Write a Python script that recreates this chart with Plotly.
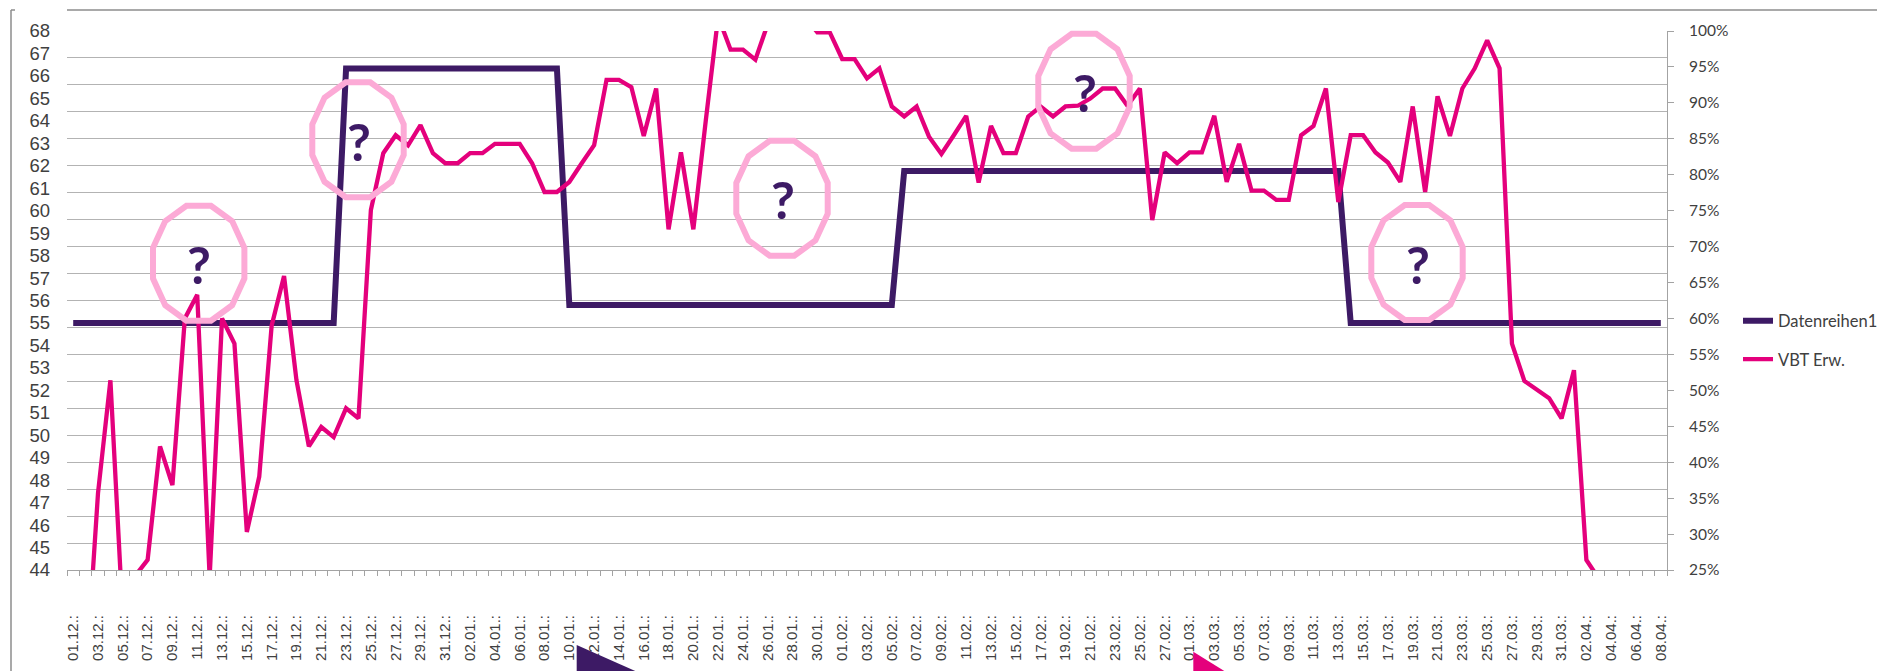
import math
import pandas as pd
import plotly.graph_objects as go

# ---------------- data ----------------
dates = pd.date_range("2012-12-01", "2013-04-08", freq="D")
categories = [d.strftime("%d.%m.") for d in dates]
tick_labels = [c + ":" if i % 2 == 0 else "" for i, c in enumerate(categories)]

datenreihen1 = [
    55, 55, 55, 55, 55, 55, 55, 55, 55, 55,
    55, 55, 55, 55, 55, 55, 55, 55, 55, 55,
    55, 55, 66.33, 66.33, 66.33, 66.33, 66.33, 66.33, 66.33, 66.33,
    66.33, 66.33, 66.33, 66.33, 66.33, 66.33, 66.33, 66.33, 66.33, 66.33,
    55.8, 55.8, 55.8, 55.8, 55.8, 55.8, 55.8, 55.8, 55.8, 55.8,
    55.8, 55.8, 55.8, 55.8, 55.8, 55.8, 55.8, 55.8, 55.8, 55.8,
    55.8, 55.8, 55.8, 55.8, 55.8, 55.8, 55.8, 61.77, 61.77, 61.77,
    61.77, 61.77, 61.77, 61.77, 61.77, 61.77, 61.77, 61.77, 61.77, 61.77,
    61.77, 61.77, 61.77, 61.77, 61.77, 61.77, 61.77, 61.77, 61.77, 61.77,
    61.77, 61.77, 61.77, 61.77, 61.77, 61.77, 61.77, 61.77, 61.77, 61.77,
    61.77, 61.77, 61.77, 55, 55, 55, 55, 55, 55, 55,
    55, 55, 55, 55, 55, 55, 55, 55, 55, 55,
    55, 55, 55, 55, 55, 55, 55, 55, 55,
]

vbt_erw = [
    None, 9.3, 35.7, 51.4, 18.4, 24.2, 26.4, 42.2, 36.8, 60.0,
    63.3, 24.0, 60.0, 56.5, 30.3, 38.0, 59.0, 65.9, 51.4, 42.2,
    44.9, 43.5, 47.5, 46.1, 75.1, 83.0, 85.5, 84.1, 86.9, 83.0,
    81.6, 81.6, 83.0, 83.0, 84.3, 84.3, 84.3, 81.6, 77.6, 77.6,
    79.0, 81.6, 84.1, 93.2, 93.2, 92.2, 85.4, 92.0, 72.4, 83.1,
    72.4, 87.5, 102.0, 97.4, 97.4, 96.0, 101.0, 104.0, 104.0, 102.0,
    99.8, 99.8, 96.1, 96.1, 93.4, 94.8, 89.5, 88.1, 89.5, 85.3,
    82.9, 85.5, 88.2, 78.9, 86.8, 83.0, 83.0, 88.1, 89.5, 88.1,
    89.5, 89.6, 90.6, 92.0, 92.0, 89.6, 92.0, 73.7, 83.1, 81.6,
    83.1, 83.1, 88.2, 79.0, 84.3, 77.8, 77.8, 76.5, 76.5, 85.5,
    86.8, 92.0, 76.2, 85.5, 85.5, 83.1, 81.7, 79.0, 89.5, 77.6,
    90.9, 85.4, 92.0, 94.8, 98.7, 94.8, 56.5, 51.3, 50.1, 48.9,
    46.1, 52.8, 26.4, 23.8, None, None, None, None, None,
]

left_ticks = list(range(44, 69))
right_ticks = list(range(25, 101, 5))

# decoration (pixel positions of the "?" callouts)
callouts = [(198.7, 263.2), (358.0, 139.7), (782.0, 198.3), (1084.0, 91.3), (1417.0, 262.5)]

PURPLE = "#3d1a65"
MAGENTA = "#e4007c"
PINK = "#fcaad6"
GRID = "#b3b3b3"
AXIS = "#a3a3a3"
TXT = "#404040"

W, H = 1877, 671
L, R, T, B = 67, 210, 31, 101
PW, PH = W - L - R, H - T - B


def px(x):
    return (x - L) / PW


def py(y):
    return (H - B - y) / PH


fig = go.Figure()
fig.add_trace(go.Scatter(
    x=categories, y=datenreihen1, name="Datenreihen1", mode="lines",
    line=dict(color=PURPLE, width=6), yaxis="y", legendgroup="a",
))
fig.add_trace(go.Scatter(
    x=categories, y=vbt_erw, name="VBT Erw.", mode="lines",
    line=dict(color=MAGENTA, width=4.3), yaxis="y2", legendgroup="b",
    connectgaps=False,
))
fig.add_trace(go.Scatter(
    x=[categories[0]], y=[None], yaxis="y3", showlegend=False, hoverinfo="skip",
))

shapes = []
# outer frame pieces
shapes.append(dict(type="line", xref="paper", yref="paper", x0=px(11), x1=px(11), y0=py(10), y1=py(680),
                   line=dict(color="#8c8c8c", width=1.5)))
shapes.append(dict(type="line", xref="paper", yref="paper", x0=px(11), x1=px(15), y0=py(10), y1=py(10),
                   line=dict(color="#8c8c8c", width=1.5)))
shapes.append(dict(type="line", xref="paper", yref="paper", x0=px(67), x1=px(1880), y0=py(10), y1=py(10),
                   line=dict(color="#8c8c8c", width=1.5)))

# pink callout polygons
hw, hh = 45.7, 57.5
for cx, cy in callouts:
    rx, ry = hw / math.cos(math.radians(15)), hh / math.cos(math.radians(15))
    pts = []
    for k in range(12):
        a = math.radians(15 + 30 * k)
        pts.append((px(cx + rx * math.cos(a)), py(cy + ry * math.sin(a))))
    path = "M " + " L ".join(f"{a:.5f},{b:.5f}" for a, b in pts) + " Z"
    shapes.append(dict(type="path", xref="paper", yref="paper", path=path,
                       line=dict(color=PINK, width=6), fillcolor="rgba(0,0,0,0)", layer="above"))

# arrow tips at bottom
tri1 = [(576.7, 645), (660, 682), (576.7, 682)]
tri2 = [(1193.3, 651.7), (1242, 682), (1193.3, 682)]
for tri, col in ((tri1, PURPLE), (tri2, MAGENTA)):
    path = "M " + " L ".join(f"{px(a):.5f},{py(b):.5f}" for a, b in tri) + " Z"
    shapes.append(dict(type="path", xref="paper", yref="paper", path=path,
                       line=dict(color=col, width=0), fillcolor=col, layer="above"))

annotations = []
for cx, cy in callouts:
    annotations.append(dict(xref="paper", yref="paper", x=px(cx + 0.5), y=py(cy + 1),
                            text="<b>?</b>", showarrow=False, xanchor="center", yanchor="middle",
                            font=dict(family="Lato", size=52, color=PURPLE)))

fig.update_layout(
    width=W, height=H,
    margin=dict(l=L, r=R, t=T, b=B, pad=0, autoexpand=False),
    paper_bgcolor="white", plot_bgcolor="white",
    shapes=shapes, annotations=annotations,
    legend=dict(x=px(1738), y=py(340), xanchor="left", yanchor="middle",
                font=dict(family="Lato", size=16.5, color=TXT),
                tracegroupgap=14, traceorder="grouped", bgcolor="rgba(0,0,0,0)"),
    xaxis=dict(
        type="category", categoryorder="array", categoryarray=categories,
        range=[-0.5, len(categories) - 0.5],
        tickmode="array", tickvals=categories, ticktext=tick_labels,
        tickangle=-90, tickson="boundaries", ticks="outside", ticklen=5,
        tickcolor=AXIS, showline=True, linecolor=AXIS, linewidth=1,
        showgrid=False, zeroline=False,
        tickfont=dict(family="Liberation Sans", size=15, color=TXT),
        ticklabelstandoff=38,
    ),
    yaxis=dict(
        range=[44, 68], tickmode="array", tickvals=left_ticks,
        ticktext=[str(v) for v in left_ticks],
        showgrid=False, zeroline=False, ticks="", showline=False,
        tickfont=dict(family="Liberation Sans", size=18.5, color=TXT),
        ticklabelstandoff=16,
    ),
    yaxis2=dict(
        overlaying="y", side="right", range=[25, 100], tickmode="array",
        tickvals=right_ticks, ticktext=[f"{v}%" for v in right_ticks],
        showgrid=False, zeroline=False, showline=True, linecolor=AXIS, linewidth=1,
        ticks="outside", ticklen=6, tickcolor=AXIS,
        tickfont=dict(family="Lato", size=15.5, color=TXT),
        ticklabelstandoff=12,
    ),
    yaxis3=dict(
        overlaying="y", side="left", range=[0, 20], tickmode="linear", tick0=0, dtick=1,
        showgrid=True, gridcolor=GRID, gridwidth=1, showticklabels=False, ticks="",
        zeroline=False, showline=False,
    ),
)

fig.write_html("out.html", config={"displayModeBar": False},
               post_script="document.body.style.margin='0';document.body.style.overflow='hidden';")
